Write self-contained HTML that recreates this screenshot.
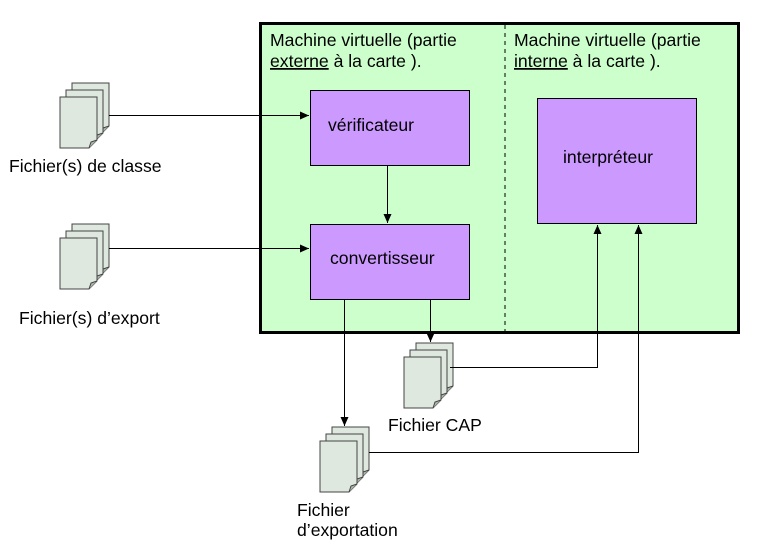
<!DOCTYPE html>
<html><head><meta charset="utf-8"><style>
html,body{margin:0;padding:0;background:#fff}
svg{display:block}
text{font-family:"Liberation Sans",Arial,sans-serif;font-size:17.6px;fill:#000}
</style></head><body>
<svg width="762" height="556" viewBox="0 0 762 556" xmlns="http://www.w3.org/2000/svg">
<defs>
<marker id="ah" markerWidth="9" markerHeight="8" refX="9" refY="4" orient="auto" markerUnits="userSpaceOnUse">
<path d="M0,0 L9,4 L0,8 Z" fill="#000"/>
</marker>
<g id="sheet">
<path d="M0,0 H37 V43 L29,51 H0 Z" fill="#dfe8df" stroke="#444" stroke-width="1"/>
<path d="M29,51 L31,45 L37,43" fill="#aab5aa" stroke="#444" stroke-width="1"/>
</g>
<g id="doc">
<use href="#sheet" x="12" y="-14"/>
<use href="#sheet" x="6" y="-7"/>
<use href="#sheet" x="0" y="0"/>
</g>
</defs>

<rect x="260.5" y="23.5" width="478" height="309" fill="#ccffcc" stroke="#000" stroke-width="3"/>
<line x1="505" y1="25" x2="505" y2="331" stroke="#000" stroke-width="1" stroke-dasharray="4,4"/>

<text x="270" y="46">Machine virtuelle (partie</text>
<text x="270" y="67"><tspan text-decoration="underline">externe</tspan> à la carte ).</text>
<text x="514" y="46">Machine virtuelle (partie</text>
<text x="514" y="67"><tspan text-decoration="underline">interne</tspan> à la carte ).</text>

<rect x="310.5" y="90.5" width="159" height="75" fill="#cc99ff" stroke="#000" stroke-width="1"/>
<text x="328" y="131">vérificateur</text>
<rect x="310.5" y="224.5" width="159" height="75" fill="#cc99ff" stroke="#000" stroke-width="1"/>
<text x="330" y="264">convertisseur</text>
<rect x="537.5" y="98.5" width="159" height="125" fill="#cc99ff" stroke="#000" stroke-width="1"/>
<text x="563" y="163">interpréteur</text>

<use href="#doc" x="60" y="97"/>
<text x="9" y="172">Fichier(s) de classe</text>
<use href="#doc" x="60" y="238"/>
<text x="19" y="324">Fichier(s) d’export</text>
<use href="#doc" x="404" y="357"/>
<text x="388" y="431">Fichier CAP</text>
<use href="#doc" x="320" y="441"/>
<text x="297" y="516">Fichier</text>
<text x="297" y="536">d’exportation</text>

<g stroke="#000" stroke-width="1" fill="none">
<line x1="109" y1="115.5" x2="309" y2="115.5" marker-end="url(#ah)"/>
<line x1="109" y1="248.5" x2="309" y2="248.5" marker-end="url(#ah)"/>
<line x1="387.5" y1="166" x2="387.5" y2="223" marker-end="url(#ah)"/>
<line x1="344.5" y1="300" x2="344.5" y2="426" marker-end="url(#ah)"/>
<line x1="430.5" y1="300" x2="430.5" y2="342" marker-end="url(#ah)"/>
<polyline points="450,367.5 597.5,367.5 597.5,225" marker-end="url(#ah)"/>
<polyline points="369,452.5 638.5,452.5 638.5,225" marker-end="url(#ah)"/>
</g>
</svg>
</body></html>
